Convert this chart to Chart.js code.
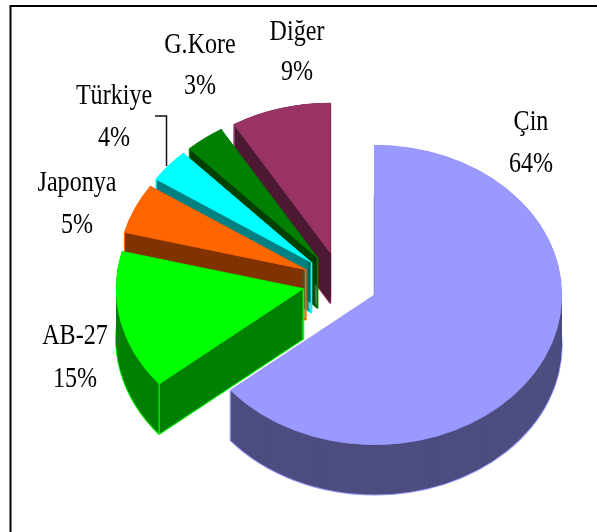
<!DOCTYPE html>
<html><head><meta charset="utf-8">
<style>html,body{margin:0;padding:0;background:#fff}canvas{display:block}</style>
<script src="https://cdn.jsdelivr.net/npm/chart.js@4"></script>
</head><body>
<div style="width:597px;height:532px"><canvas id="c" width="597" height="532"></canvas></div>
<script>
const categories = ['Çin','AB-27','Japonya','Türkiye','G.Kore','Diğer'];
const shares = [64,15,5.4,3.6,3.4,8.6];
const topColors = ['#9999FF','#00FF00','#FF6600','#00FFFF','#008000','#993366'];
const sideColors = ['#4D4D80','#008000','#803300','#008080','#004000','#4D1A33'];
const labelCenters = [[531,122,164],[75,336,379],[77,183,225],[114,96,138],[200,45,86],[297,32,72]];
const tilt = 0.8, depth = 50, explode = 38, pieRadius = 187, cx = 340.3, cy = 282;

function tr(ctx, el, dy){
  const mid = (el.startAngle + el.endAngle) / 2;
  ctx.translate(cx, cy + dy);
  ctx.scale(1, tilt);
  ctx.translate(-el.x + Math.cos(mid) * explode, -el.y + Math.sin(mid) * explode);
}
function shape(ctx, el, dy){
  ctx.save(); tr(ctx, el, dy);
  ctx.beginPath();
  ctx.moveTo(el.x, el.y);
  ctx.arc(el.x, el.y, el.outerRadius, el.startAngle, el.endAngle);
  ctx.closePath();
  ctx.restore();
}
function pt(el, ang, r){
  const mid = (el.startAngle + el.endAngle) / 2;
  return [cx + Math.cos(mid)*explode + Math.cos(ang)*r,
          cy + tilt*(Math.sin(mid)*explode + Math.sin(ang)*r)];
}
function vline(ctx, q){
  ctx.beginPath(); ctx.moveTo(q[0],q[1]); ctx.lineTo(q[0],q[1]+depth); ctx.stroke();
}
const pie3d = {
  id:'pie3d',
  beforeDatasetsDraw(chart){
    const ctx = chart.ctx;
    const arcs = chart.getDatasetMeta(0).data;
    const order = [5,4,3,2,1,0];
    order.forEach(i=>{
      const el = arcs[i];
      ctx.save();
      ctx.lineJoin = 'round';
      // bright rim: stroked first so that only the silhouette stays visible
      ctx.strokeStyle = topColors[i]; ctx.lineWidth = 2;
      shape(ctx, el, depth); ctx.stroke();
      vline(ctx, pt(el,0,0));
      vline(ctx, pt(el,el.endAngle,el.outerRadius));
      // side wall: swept outline of the slice
      ctx.fillStyle = sideColors[i];
      for(let d = depth; d >= 0; d--){ shape(ctx, el, d); ctx.fill(); }
      ctx.lineWidth = 1.2;
      vline(ctx, pt(el,el.startAngle,el.outerRadius));
      ctx.restore();
      // top face drawn by the library's own arc element
      ctx.save(); tr(ctx, el, 0); el.draw(ctx); ctx.restore();
    });
    return false;
  },
  afterDraw(chart){
    const ctx = chart.ctx;
    ctx.save();
    ctx.strokeStyle = '#000'; ctx.lineWidth = 2;
    ctx.strokeRect(10.5,6,640,600);
    ctx.lineWidth = 1.5; ctx.strokeStyle = '#111';
    ctx.beginPath(); ctx.moveTo(155,116); ctx.lineTo(166.5,116); ctx.lineTo(166.5,166); ctx.stroke();
    ctx.fillStyle = '#000'; ctx.textAlign='center'; ctx.textBaseline='middle';
    ctx.font = '29px "Liberation Serif"';
    const sx = 0.83;
    categories.forEach((name,i)=>{
      const [x,y1,y2] = labelCenters[i];
      ctx.save(); ctx.translate(x,0); ctx.scale(sx,1);
      ctx.fillText(name,0,y1);
      ctx.fillText(Math.round(shares[i])+'%',0,y2);
      ctx.restore();
    });
    ctx.restore();
  }
};
new Chart(document.getElementById('c'),{
  type:'pie',
  data:{labels:categories,datasets:[{data:shares,backgroundColor:topColors,borderColor:topColors,borderWidth:1,radius:pieRadius}]},
  options:{responsive:false,animation:false,events:[],layout:{padding:0},
    plugins:{legend:{display:false},tooltip:{enabled:false},title:{display:false}}},
  plugins:[pie3d]
});
</script></body></html>
